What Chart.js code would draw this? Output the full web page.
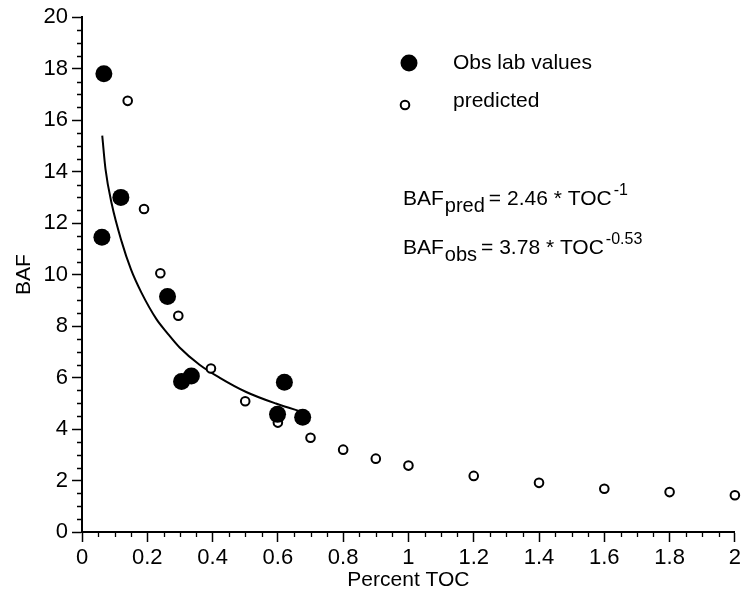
<!DOCTYPE html>
<html>
<head>
<meta charset="utf-8">
<script src="https://cdn.jsdelivr.net/npm/chart.js@4.4.1/dist/chart.umd.min.js"></script>
<style>
  html, body { margin: 0; padding: 0; background: #fff; }
  #wrap { width: 744px; height: 593px; }
</style>
</head>
<body>
<div id="wrap"><canvas id="bafChart" width="744" height="593"></canvas></div>
<script>
// observed lab values (filled dots)
const obsToc = [0.067, 0.119, 0.061, 0.262, 0.305, 0.335, 0.599, 0.62, 0.676];
const obsBaf = [17.8, 13.0, 11.45, 9.15, 5.85, 6.06, 4.57, 5.82, 4.46];

// predicted values (open dots)
const predToc = [0.14, 0.19, 0.24, 0.295, 0.395, 0.5, 0.6, 0.7, 0.8, 0.9, 1.0, 1.2, 1.4, 1.6, 1.8, 2.0];
const predBaf = [16.75, 12.55, 10.05, 8.4, 6.35, 5.08, 4.25, 3.66, 3.2, 2.85, 2.58, 2.18, 1.91, 1.68, 1.55, 1.43];

const fitToc = [0.062, 0.072, 0.091, 0.121, 0.15, 0.182, 0.228, 0.26, 0.299, 0.36, 0.421, 0.503, 0.594, 0.681];
const fitBaf = [15.4, 14.1, 12.75, 11.3, 10.2, 9.3, 8.27, 7.75, 7.17, 6.5, 6.0, 5.44, 4.99, 4.64];

const legendLabels = ['Obs lab values', 'predicted'];
const xTitle = 'Percent TOC';
const yTitle = 'BAF';

const FONT = '"Liberation Sans", Arial, Helvetica, sans-serif';

function toPoints(xs, ys) {
  return xs.map((x, i) => ({ x: x, y: ys[i] }));
}

// short minor ticks between the labelled ones
const minorTicks = {
  id: 'minorTicks',
  afterDraw(chart) {
    const ctx = chart.ctx;
    const xs = chart.scales.x, ys = chart.scales.y;
    ctx.save();
    ctx.strokeStyle = '#000';
    ctx.lineWidth = 1.3;
    ctx.beginPath();
    for (let i = 0; i <= 40; i++) {
      if (i % 4 === 0) continue;
      const px = Math.round(xs.getPixelForValue(i * 0.05)) + 0.5;
      ctx.moveTo(px, xs.top);
      ctx.lineTo(px, xs.top + 5);
    }
    for (let i = 0; i <= 40; i++) {
      if (i % 4 === 0) continue;
      const py = Math.round(ys.getPixelForValue(i * 0.5)) + 0.5;
      ctx.moveTo(ys.right - 5, py);
      ctx.lineTo(ys.right + 1, py);
    }
    ctx.stroke();
    ctx.restore();
  }
};

// legend and the two fit equations inside the plot
const notes = {
  id: 'notes',
  afterDraw(chart) {
    const ctx = chart.ctx;
    const obs = chart.data.datasets[0], pred = chart.data.datasets[1];
    ctx.save();
    ctx.textBaseline = 'alphabetic';

    // legend markers
    ctx.beginPath();
    ctx.arc(409, 63, obs.pointRadius, 0, Math.PI * 2);
    ctx.fillStyle = obs.backgroundColor;
    ctx.fill();
    ctx.beginPath();
    ctx.arc(405, 105, pred.pointRadius, 0, Math.PI * 2);
    ctx.fillStyle = pred.backgroundColor;
    ctx.fill();
    ctx.lineWidth = pred.borderWidth;
    ctx.strokeStyle = pred.borderColor;
    ctx.stroke();

    ctx.fillStyle = '#000';
    ctx.font = '21px ' + FONT;
    ctx.fillText(legendLabels[0], 453, 69);
    ctx.fillText(legendLabels[1], 453, 107);

    // equations: base text, subscript, rest, superscript
    function eq(y, sub, rest, sup) {
      let x = 403;
      ctx.font = '21px ' + FONT;
      ctx.fillText('BAF', x, y);
      x += ctx.measureText('BAF').width + 1;
      ctx.font = '20px ' + FONT;
      ctx.fillText(sub, x, y + 7);
      x += ctx.measureText(sub).width + 4;
      ctx.font = '21px ' + FONT;
      ctx.fillText(rest, x, y);
      x += ctx.measureText(rest).width + 2;
      ctx.font = '16px ' + FONT;
      ctx.fillText(sup, x, y - 10);
    }
    eq(205, 'pred', '= 2.46 * TOC', '-1');
    eq(254, 'obs', '= 3.78 * TOC', '-0.53');
    ctx.restore();
  }
};

const ctx = document.getElementById('bafChart').getContext('2d');
new Chart(ctx, {
  type: 'scatter',
  data: {
    datasets: [
      {
        label: legendLabels[0],
        data: toPoints(obsToc, obsBaf),
        pointRadius: 8.5,
        pointHoverRadius: 8.5,
        backgroundColor: '#000',
        borderColor: '#000',
        borderWidth: 0,
        clip: false
      },
      {
        label: legendLabels[1],
        data: toPoints(predToc, predBaf),
        pointRadius: 4.3,
        pointHoverRadius: 4.3,
        backgroundColor: '#fff',
        borderColor: '#000',
        borderWidth: 2,
        clip: false
      },
      {
        label: 'fit',
        type: 'line',
        data: toPoints(fitToc, fitBaf),
        showLine: true,
        pointRadius: 0,
        borderColor: '#000',
        borderWidth: 2,
        cubicInterpolationMode: 'monotone',
        fill: false
      }
    ]
  },
  options: {
    responsive: false,
    animation: false,
    layout: { padding: { top: 16, right: 7 } },
    plugins: {
      legend: { display: false },
      tooltip: { enabled: false }
    },
    scales: {
      x: {
        type: 'linear',
        min: 0,
        max: 2,
        afterFit: s => { s.height = 61; },
        border: { display: true, color: '#000', width: 2 },
        grid: { drawOnChartArea: false, color: '#000', tickColor: '#000', tickLength: 10, tickWidth: 1.5 },
        ticks: {
          stepSize: 0.2,
          color: '#000',
          padding: 3,
          maxRotation: 0,
          font: { family: FONT, size: 22 },
          callback: v => String(Math.round(v * 10) / 10)
        },
        title: {
          display: true,
          text: xTitle,
          color: '#000',
          font: { family: FONT, size: 21 },
          padding: { top: 0, bottom: 0 }
        }
      },
      y: {
        min: 0,
        max: 20,
        afterFit: s => { s.width = 82; },
        border: { display: true, color: '#000', width: 2 },
        grid: { drawOnChartArea: false, color: '#000', tickColor: '#000', tickLength: 10, tickWidth: 1.5 },
        ticks: {
          stepSize: 2,
          color: '#000',
          padding: 4,
          font: { family: FONT, size: 22 }
        },
        title: {
          display: true,
          text: yTitle,
          color: '#000',
          font: { family: FONT, size: 21 },
          padding: { top: 12, bottom: 0 }
        }
      }
    }
  },
  plugins: [minorTicks, notes]
});
</script>
</body>
</html>
